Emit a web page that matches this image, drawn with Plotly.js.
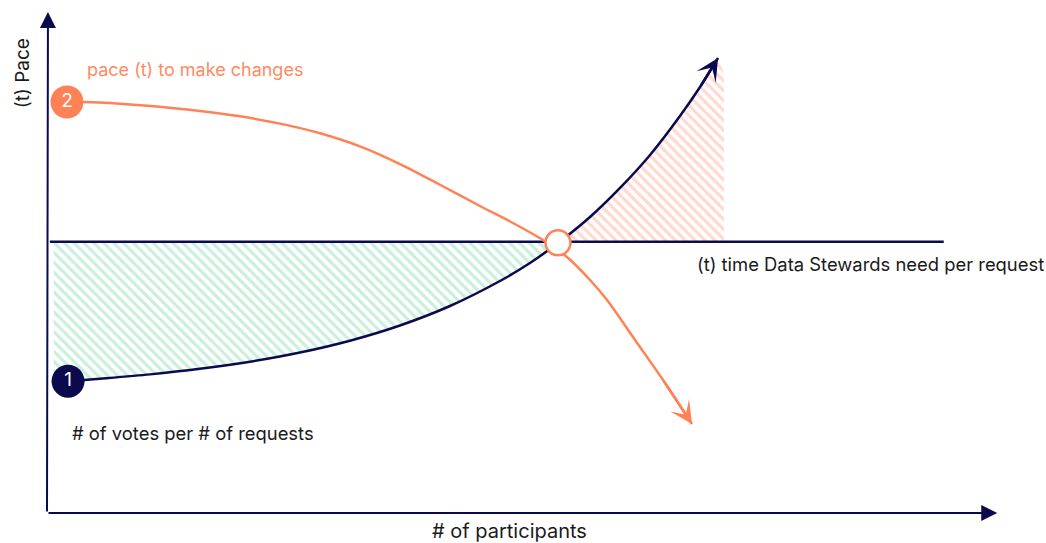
<!DOCTYPE html>
<html>
<head>
<meta charset="utf-8">
<script src="https://cdn.plot.ly/plotly-3.0.1.min.js"></script>
<style>html,body{margin:0;padding:0;background:#fff;}#chart{width:1046px;height:543px;}</style>
</head>
<body>
<div id="chart"></div>
<script>
// ---- data (abstract units: participants 0-100, pace 0-100) ----
const stewardLevel = 53.7;                 // (t) time Data Stewards need per request
const stewardRange = [0.3, 93.8];

const votesParticipants = [2.20, 5.54, 10.77, 16.00, 21.23, 26.46, 31.69, 36.92, 42.15, 47.38, 50.52, 53.66, 56.80, 59.94, 63.08, 66.21, 68.31, 70.19];
const votesPace         = [26.1, 26.6, 27.45, 28.55, 29.96, 31.78, 34.12, 37.13, 40.99, 45.94, 49.50, 53.76, 58.61, 64.36, 70.89, 78.61, 84.36, 90.10];

const paceParticipants  = [2.09, 3.77, 7.64, 11.82, 16.00, 20.19, 24.37, 28.56, 32.74, 36.92, 41.11, 45.29, 48.74, 51.88, 54.39, 56.80, 58.58, 61.51, 64.44, 67.47];
const paceValues        = [81.39, 81.39, 81.05, 80.45, 79.60, 78.55, 77.10, 75.20, 72.60, 69.10, 65.00, 60.79, 57.43, 54.06, 50.69, 46.14, 42.18, 34.26, 26.34, 17.62];

const shadeStart = 0.7;   // left edge of green shaded gap
const shadeEnd = 70.8;    // right edge of red shaded gap
const crossing = {x: 53.45, y: 53.5};

const NAVY = '#0b0a4f';
const ORANGE = '#ff8257';
const FONT = 'Inter, "Noto Sans", sans-serif';

// crossing of votes curve with steward level (from the data)
let ci = 0;
for (let i = 0; i < votesPace.length - 1; i++) {
  if (votesPace[i] <= stewardLevel && votesPace[i + 1] > stewardLevel) { ci = i; break; }
}
const t = (stewardLevel - votesPace[ci]) / (votesPace[ci + 1] - votesPace[ci]);
const crossX = votesParticipants[ci] + t * (votesParticipants[ci + 1] - votesParticipants[ci]);

// green polygon
const gX = [shadeStart], gY = [votesPace[0]];
for (let i = 0; i <= ci; i++) { gX.push(votesParticipants[i]); gY.push(votesPace[i]); }
gX.push(crossX, shadeStart); gY.push(stewardLevel, stewardLevel);
// red polygon
const rX = [crossX], rY = [stewardLevel];
for (let i = ci + 1; i < votesPace.length; i++) { rX.push(votesParticipants[i]); rY.push(votesPace[i]); }
rX.push(shadeEnd, shadeEnd); rY.push(votesPace[votesPace.length - 1] - 3, stewardLevel);

const n = votesPace.length, m = paceValues.length;

const traces = [
  {x: gX, y: gY, mode: 'lines', fill: 'toself', line: {width: 0}, fillcolor: 'rgba(0,0,0,0)',
   fillpattern: {shape: '\\', fgcolor: '#c9efdb', bgcolor: 'rgba(255,255,255,0)', size: 7, solidity: 0.45}, hoverinfo: 'skip'},
  {x: rX, y: rY, mode: 'lines', fill: 'toself', line: {width: 0}, fillcolor: 'rgba(0,0,0,0)',
   fillpattern: {shape: '\\', fgcolor: '#ffd8ce', bgcolor: 'rgba(255,255,255,0)', size: 7, solidity: 0.45}, hoverinfo: 'skip'},
  {x: stewardRange, y: [stewardLevel, stewardLevel], mode: 'lines', line: {color: NAVY, width: 2.5}},
  {x: votesParticipants, y: votesPace, mode: 'lines', line: {color: NAVY, width: 2.5, shape: 'spline', smoothing: 0.8}},
  {x: paceParticipants, y: paceValues, mode: 'lines', line: {color: ORANGE, width: 2.5, shape: 'spline', smoothing: 0.8}},
  {x: [votesParticipants[0]], y: [votesPace[0]], mode: 'markers+text', text: ['1'], textposition: 'middle center',
   textfont: {color: '#fff', size: 19, family: FONT}, marker: {size: 33, color: NAVY}},
  {x: [paceParticipants[0]], y: [paceValues[0]], mode: 'markers+text', text: ['2'], textposition: 'middle center',
   textfont: {color: '#fff', size: 19, family: FONT}, marker: {size: 33, color: ORANGE}},
  {x: [crossing.x], y: [crossing.y], mode: 'markers', marker: {size: 25, color: '#fff', line: {color: ORANGE, width: 2.5}}}
];
traces.forEach(tr => { tr.showlegend = false; tr.cliponaxis = false; });

const arrow = (x, y, ax, ay, color, head, size, width) => ({
  x, y, ax, ay, xref: 'x', yref: 'y', axref: 'x', ayref: 'y', text: '', showarrow: true,
  arrowhead: head, arrowsize: size, arrowwidth: width, arrowcolor: color, standoff: 0
});

const annotations = [
  arrow(99.4, 0, 0, 0, NAVY, 2, 1.6, 2),
  arrow(0.1, 99.2, 0, 0, NAVY, 2, 1.6, 2),
  arrow(votesParticipants[n - 1], votesPace[n - 1], votesParticipants[n - 2], votesPace[n - 2], NAVY, 3, 1.5, 2.5),
  arrow(paceParticipants[m - 1], paceValues[m - 1], paceParticipants[m - 2], paceValues[m - 2], ORANGE, 3, 1.5, 2.5),
  {x: 3.97, y: 87.9, xref: 'x', yref: 'y', xanchor: 'left', yanchor: 'middle', showarrow: false,
   text: 'pace (t) to make changes', font: {family: FONT, size: 18, color: '#ff8a62'}},
  {x: 2.41, y: 15.8, xref: 'x', yref: 'y', xanchor: 'left', yanchor: 'middle', showarrow: false,
   text: '# of votes per # of requests', font: {family: FONT, size: 18.4, color: '#1a1a1a'}},
  {x: 67.78, y: 49.3, xref: 'x', yref: 'y', xanchor: 'left', yanchor: 'middle', showarrow: false,
   text: '(t) time Data Stewards need per request', font: {family: FONT, size: 18.4, color: '#1a1a1a'}},
  {x: 0.484, y: -0.035, xref: 'paper', yref: 'paper', xanchor: 'center', yanchor: 'middle', showarrow: false,
   text: '# of participants', font: {family: FONT, size: 20, color: '#1a1a1a'}},
  {x: -0.026, y: 0.871, xref: 'paper', yref: 'paper', xanchor: 'center', yanchor: 'middle', showarrow: false, textangle: -90,
   text: '(t) Pace', font: {family: FONT, size: 19, color: '#1a1a1a'}}
];

const layout = {
  width: 1046, height: 543,
  margin: {l: 47, r: 43, t: 8, b: 30},
  paper_bgcolor: '#fff', plot_bgcolor: '#fff',
  xaxis: {range: [0, 100], visible: false, fixedrange: true},
  yaxis: {range: [0, 100], visible: false, fixedrange: true},
  showlegend: false,
  annotations
};

Plotly.newPlot('chart', traces, layout, {displayModeBar: false, staticPlot: true});
</script>
</body>
</html>
